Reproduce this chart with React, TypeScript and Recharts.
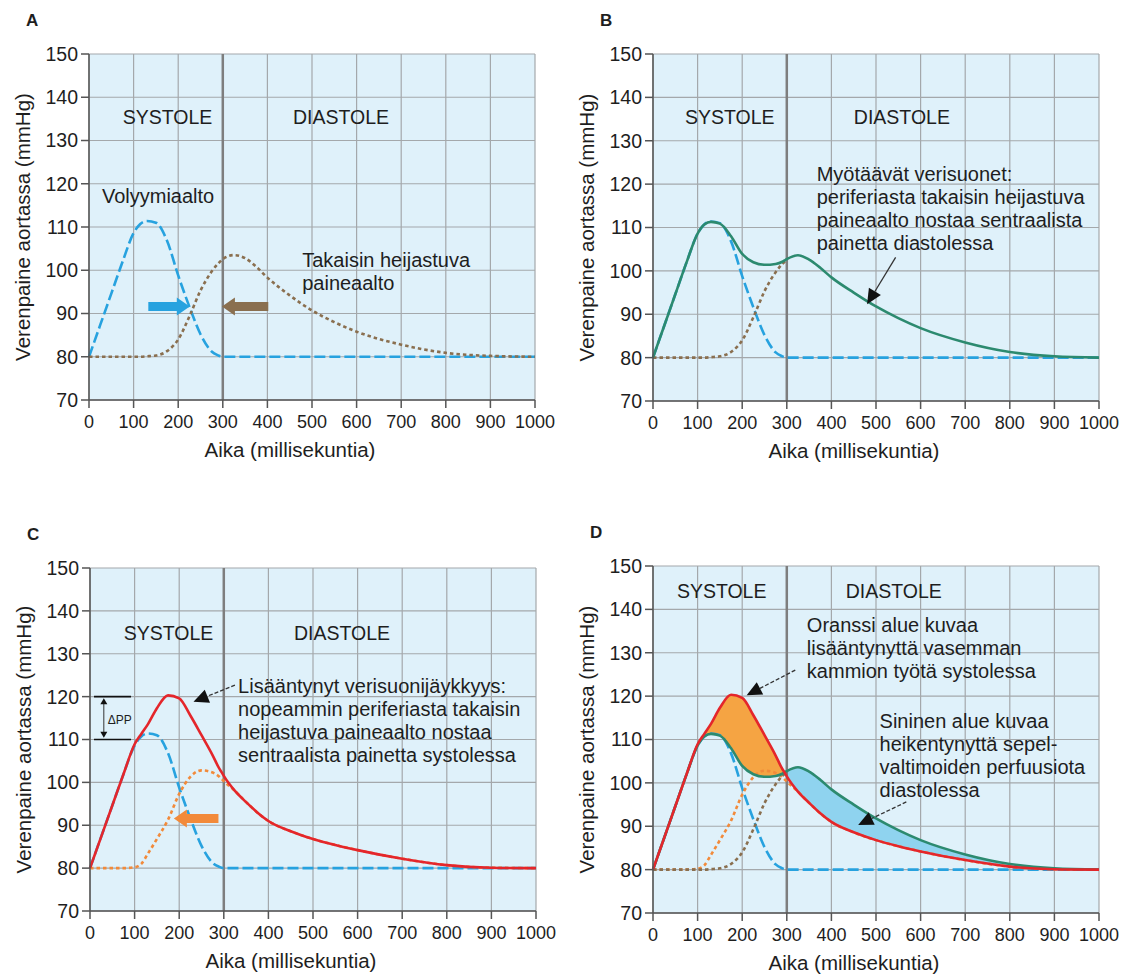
import React from 'react'
import {
  Area,
  CartesianGrid,
  ComposedChart,
  Label,
  Line,
  ReferenceDot,
  ReferenceLine,
  XAxis,
  YAxis,
} from 'recharts'

// sample times (ms) and pressures (mmHg) read per curve
const times = [0, 25, 50, 75, 100, 115, 130, 150, 175, 200, 225, 250, 275, 290, 295, 300, 325, 350, 375, 400, 450, 500, 550, 600, 700, 800, 900, 1000]
const volumeWave = [80, 87.3, 94.6, 101.9, 108.6, 110.7, 111.4, 111.0, 106.8, 98.8, 91.6, 85.2, 81.2, 80.3, 80.1, 80, 80, 80, 80, 80, 80, 80, 80, 80, 80, 80, 80, 80]
const reflectedWave = [80, 80, 80, 80, 80, 80, 80.1, 80.3, 81.3, 84.0, 89.3, 95.3, 99.7, 101.6, 102.1, 102.6, 103.5, 102.8, 100.8, 98.3, 94.2, 90.7, 88.0, 85.8, 82.8, 80.9, 80.2, 80]
const compliantPressure = [80, 87.3, 94.6, 101.9, 108.6, 110.7, 111.3, 110.9, 108.0, 103.9, 102.0, 101.4, 101.6, 102.1, 102.4, 102.7, 103.6, 102.6, 100.7, 98.5, 95.0, 91.8, 89.1, 86.8, 83.5, 81.3, 80.3, 80]
const earlyReflection = [80, 80, 80, 80, 80.2, 81.0, 83.4, 86.8, 91.3, 97.3, 101.3, 102.8, 102.3, 101.3, 100.8, 100.3, 98.0, 95.4, 93.0, 91.0, 88.6, 86.8, 85.4, 84.2, 82.2, 80.7, 80.1, 80]
const stiffPressure = [80, 87.3, 94.6, 101.9, 108.9, 111.3, 113.6, 117.3, 120.3, 119.6, 115.6, 111.0, 106.3, 103.2, 102.4, 101.5, 98.0, 95.4, 93.0, 91.0, 88.6, 86.8, 85.4, 84.2, 82.2, 80.7, 80.1, 80]

const xTicks = [0, 100, 200, 300, 400, 500, 600, 700, 800, 900, 1000]
const yTicks = [70, 80, 90, 100, 110, 120, 130, 140, 150]

const rows = times.map((t, i) => ({
  t,
  volume: volumeWave[i],
  reflected: reflectedWave[i],
  // in B and D the reflected wave is only drawn until it joins the total pressure
  reflectedSystole: t <= 300 ? reflectedWave[i] : null,
  compliant: compliantPressure[i],
  early: earlyReflection[i],
  stiff: stiffPressure[i],
  extraWork: t >= 100 && t <= 295 ? [compliantPressure[i], stiffPressure[i]] : null,
  lostPerfusion: t >= 295 ? [stiffPressure[i], compliantPressure[i]] : null,
}))

const FONT = '"Liberation Sans", Arial, Helvetica, sans-serif'
const INK = '#1e1e1e'
const BG = '#dff1fa'
const GRID = '#a4a8ab'
const AXIS = '#555'
const BLUE = '#27a2df'
const BROWN = '#8a6f4f'
const ORANGE = '#f28a3a'
const RED = '#e4262b'
const GREEN = '#2c8a6f'
const ORANGE_FILL = '#f5a443'
const BLUE_FILL = '#8fd3ef'

const textBlock = (lines: string[], anchor: 'start' | 'middle' = 'start', size = 20) => (p: any) => (
  <text x={p.cx} y={p.cy} fontSize={size} fill={INK} textAnchor={anchor} fontFamily={FONT}>
    {lines.map((s, i) => (
      <tspan key={i} x={p.cx} dy={i === 0 ? 0 : 23}>
        {s}
      </tspan>
    ))}
  </text>
)

// thick horizontal arrow, tip at the second point
const blockArrow = (color: string) => (p: any) => {
  const { x1, y1, x2 } = p
  const d = x2 > x1 ? 1 : -1
  const hx = x2 - d * 13
  const pts = [
    [x1, y1 - 4.5], [hx, y1 - 4.5], [hx, y1 - 9], [x2, y1],
    [hx, y1 + 9], [hx, y1 + 4.5], [x1, y1 + 4.5],
  ].map((q) => q.join(',')).join(' ')
  return <polygon points={pts} fill={color} />
}

// thin leader line with a black triangle head
const pointer = (dashed: boolean) => (p: any) => {
  const { x1, y1, x2, y2 } = p
  const len = Math.hypot(x2 - x1, y2 - y1)
  const ux = (x2 - x1) / len
  const uy = (y2 - y1) / len
  const bx = x2 - ux * 15
  const by = y2 - uy * 15
  const px = -uy * 7
  const py = ux * 7
  return (
    <g>
      <line x1={x1} y1={y1} x2={bx} y2={by} stroke="#333" strokeWidth={1.3} strokeDasharray={dashed ? '4 2' : undefined} />
      <polygon points={`${x2},${y2} ${bx + px},${by + py} ${bx - px},${by - py}`} fill="#111" />
    </g>
  )
}

const plainLine = (p: any) => <line x1={p.x1} y1={p.y1} x2={p.x2} y2={p.y2} stroke="#111" strokeWidth={1.6} />

const doubleArrow = (p: any) => {
  const { x1, y1, y2 } = p
  return (
    <g>
      <line x1={x1} y1={y1 + 5} x2={x1} y2={y2 - 5} stroke="#333" strokeWidth={1} />
      <polygon points={`${x1},${y1} ${x1 - 3.5},${y1 + 6} ${x1 + 3.5},${y1 + 6}`} fill="#111" />
      <polygon points={`${x1},${y2} ${x1 - 3.5},${y2 - 6} ${x1 + 3.5},${y2 - 6}`} fill="#111" />
    </g>
  )
}

type PanelProps = {
  letter: string
  left: number
  top: number
  plotHeight: number
  phaseY: number
  systoleX: number
  diastoleX: number
  children: React.ReactNode
}

const Panel = ({ letter, left, top, plotHeight, phaseY, systoleX, diastoleX, children }: PanelProps) => {
  const width = 560
  const height = 54 + plotHeight + 62
  const tickStyle = { fill: INK, fontFamily: FONT }
  return (
    <div style={{ position: 'absolute', left, top, width, height }}>
      <ComposedChart width={width} height={height} data={rows} margin={{ top: 54, right: 25, bottom: 0, left: 0 }}>
        <CartesianGrid fill={BG} fillOpacity={1} stroke={GRID} strokeWidth={1.2} />
        <XAxis
          dataKey="t"
          type="number"
          domain={[0, 1000]}
          ticks={xTicks}
          interval={0}
          height={62}
          tickSize={8}
          tickMargin={7}
          tick={{ ...tickStyle, fontSize: 18 }}
          axisLine={{ stroke: AXIS, strokeWidth: 1.5 }}
          tickLine={{ stroke: AXIS, strokeWidth: 1.5 }}
        >
          <Label value="Aika (millisekuntia)" position="insideBottom" offset={5} dx={-22} style={{ fontSize: 20.5, fill: INK, fontFamily: FONT }} />
        </XAxis>
        <YAxis
          type="number"
          domain={[70, 150]}
          ticks={yTicks}
          interval={0}
          width={89}
          tickSize={8}
          tickMargin={3}
          tick={{ ...tickStyle, fontSize: 19.5 }}
          axisLine={{ stroke: AXIS, strokeWidth: 1.5 }}
          tickLine={{ stroke: AXIS, strokeWidth: 1.5 }}
        >
          <Label
            value="Verenpaine aortassa (mmHg)"
            angle={-90}
            position="insideLeft"
            offset={23}
            style={{ textAnchor: 'middle', fontSize: 20.5, fill: INK, fontFamily: FONT }}
          />
        </YAxis>
        <ReferenceLine x={300} stroke="#7e7e7e" strokeWidth={2.5} />
        <ReferenceDot x={systoleX} y={phaseY} r={0} shape={textBlock(['SYSTOLE'], 'middle', 19.5)} />
        <ReferenceDot x={diastoleX} y={phaseY} r={0} shape={textBlock(['DIASTOLE'], 'middle', 19.5)} />
        {children}
      </ComposedChart>
      <div
        style={{
          position: 'absolute',
          left: letter === 'B' ? 36 : 26,
          top: 11,
          fontFamily: FONT,
          fontWeight: 'bold',
          fontSize: 17,
          color: INK,
        }}
      >
        {letter}
      </div>
    </div>
  )
}

const dashed = { type: 'monotone' as const, dot: false, activeDot: false, isAnimationActive: false, strokeWidth: 2.6 }

const App = () => (
  <div style={{ position: 'absolute', left: 0, top: 0, width: 1129, height: 976, background: '#fff' }}>
    <Panel letter="A" left={0} top={0} plotHeight={346} phaseY={133.8} systoleX={176} diastoleX={565}>
      <Line dataKey="volume" stroke={BLUE} strokeDasharray="11 4" {...dashed} />
      <Line dataKey="reflected" stroke={BROWN} strokeDasharray="3.5 3" {...dashed} />
      <ReferenceLine segment={[{ x: 133, y: 91.6 }, { x: 226, y: 91.6 }]} shape={blockArrow(BLUE)} />
      <ReferenceLine segment={[{ x: 402, y: 91.6 }, { x: 298, y: 91.6 }]} shape={blockArrow(BROWN)} />
      <ReferenceDot x={29} y={115.5} r={0} shape={textBlock(['Volyymiaalto'])} />
      <ReferenceDot x={478} y={100.8} r={0} shape={textBlock(['Takaisin heijastuva', 'paineaalto'])} />
    </Panel>

    <Panel letter="B" left={564} top={0} plotHeight={347} phaseY={133.8} systoleX={172} diastoleX={558}>
      <Line dataKey="volume" stroke={BLUE} strokeDasharray="11 4" {...dashed} />
      <Line dataKey="reflectedSystole" stroke={BROWN} strokeDasharray="3.5 3" {...dashed} />
      <Line dataKey="compliant" stroke={GREEN} {...dashed} />
      <ReferenceDot
        x={367}
        y={120.8}
        r={0}
        shape={textBlock(['Myötäävät verisuonet:', 'periferiasta takaisin heijastuva', 'paineaalto nostaa sentraalista', 'painetta diastolessa'])}
      />
      <ReferenceLine segment={[{ x: 544, y: 103.1 }, { x: 480, y: 92.3 }]} shape={pointer(false)} />
    </Panel>

    <Panel letter="C" left={1} top={514} plotHeight={343} phaseY={133.3} systoleX={176} diastoleX={565}>
      <Line dataKey="volume" stroke={BLUE} strokeDasharray="11 4" {...dashed} />
      <Line dataKey="early" stroke={ORANGE} strokeDasharray="3.5 3" {...dashed} />
      <Line dataKey="stiff" stroke={RED} {...dashed} />
      <ReferenceLine segment={[{ x: 288, y: 91.6 }, { x: 188, y: 91.6 }]} shape={blockArrow(ORANGE)} />
      <ReferenceLine segment={[{ x: 9, y: 120 }, { x: 92, y: 120 }]} shape={plainLine} />
      <ReferenceLine segment={[{ x: 9, y: 110 }, { x: 92, y: 110 }]} shape={plainLine} />
      <ReferenceLine segment={[{ x: 31, y: 119.6 }, { x: 31, y: 110.4 }]} shape={doubleArrow} />
      <ReferenceDot x={40} y={113.7} r={0} shape={textBlock(['ΔPP'], 'start', 12)} />
      <ReferenceDot
        x={332}
        y={120.8}
        r={0}
        shape={textBlock(['Lisääntynyt verisuonijäykkyys:', 'nopeammin periferiasta takaisin', 'heijastuva paineaalto nostaa', 'sentraalista painetta systolessa'])}
      />
      <ReferenceLine segment={[{ x: 325, y: 122.7 }, { x: 232, y: 118.8 }]} shape={pointer(true)} />
    </Panel>

    <Panel letter="D" left={564} top={512} plotHeight={347} phaseY={142.7} systoleX={154} diastoleX={540}>
      <Area dataKey="extraWork" type="monotone" fill={ORANGE_FILL} fillOpacity={1} stroke="none" isAnimationActive={false} activeDot={false} />
      <Area dataKey="lostPerfusion" type="monotone" fill={BLUE_FILL} fillOpacity={1} stroke="none" isAnimationActive={false} activeDot={false} />
      <Line dataKey="volume" stroke={BLUE} strokeDasharray="11 4" {...dashed} />
      <Line dataKey="early" stroke={ORANGE} strokeDasharray="3.5 3" {...dashed} />
      <Line dataKey="reflectedSystole" stroke={BROWN} strokeDasharray="3.5 3" {...dashed} />
      <Line dataKey="compliant" stroke={GREEN} {...dashed} />
      <Line dataKey="stiff" stroke={RED} {...dashed} />
      <ReferenceDot x={345} y={134.8} r={0} shape={textBlock(['Oranssi alue kuvaa', 'lisääntynyttä vasemman', 'kammion työtä systolessa'])} />
      <ReferenceDot x={508} y={112.6} r={0} shape={textBlock(['Sininen alue kuvaa', 'heikentynyttä sepel-', 'valtimoiden perfuusiota', 'diastolessa'])} />
      <ReferenceLine segment={[{ x: 319, y: 126 }, { x: 210, y: 120.2 }]} shape={pointer(true)} />
      <ReferenceLine segment={[{ x: 568, y: 95.6 }, { x: 460, y: 90.3 }]} shape={pointer(true)} />
    </Panel>
  </div>
)

export default App
